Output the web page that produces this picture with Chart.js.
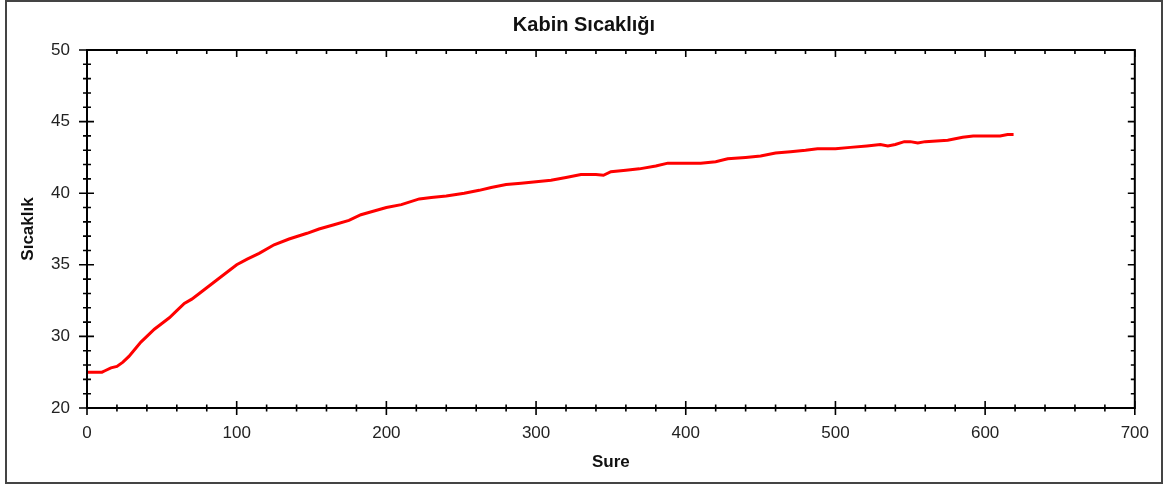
<!DOCTYPE html>
<html>
<head>
<meta charset="utf-8">
<title>Kabin Sıcaklığı</title>
<script src="https://cdn.jsdelivr.net/npm/chart.js@4/dist/chart.umd.min.js"></script>
<style>
  html, body { margin: 0; padding: 0; background: #fff; }
  #wrap { width: 1164px; height: 487px; }
</style>
</head>
<body>
<div id="wrap"><canvas id="cabinChart" width="1164" height="487"></canvas></div>
<script>
// sure (s) and kabin sicakligi (C)
const sure = [0, 5, 10, 12, 16, 20, 24, 28, 32, 36, 40, 45, 50, 55, 60, 65, 70, 75, 80, 85,
  90, 95, 100, 107, 115, 125, 135, 147, 155, 165, 175, 183, 190, 200, 210, 222, 230, 240, 252, 262,
  270, 280, 290, 300, 310, 320, 330, 340, 345, 350, 360, 369, 380, 388, 400, 410, 420, 428, 440, 450,
  460, 470, 480, 488, 500, 510, 521, 530, 535, 540, 546, 550, 555, 560, 575, 585, 592, 600, 610, 615, 619];
const sicaklik = [27.5, 27.5, 27.5, 27.6, 27.8, 27.9, 28.2, 28.6, 29.1, 29.6, 30.0, 30.5, 30.9, 31.3, 31.8, 32.3, 32.6, 33.0, 33.4, 33.8,
  34.2, 34.6, 35.0, 35.4, 35.8, 36.4, 36.8, 37.2, 37.5, 37.8, 38.1, 38.5, 38.7, 39.0, 39.2, 39.6, 39.7, 39.8, 40.0, 40.2,
  40.4, 40.6, 40.7, 40.8, 40.9, 41.1, 41.3, 41.3, 41.25, 41.5, 41.6, 41.7, 41.9, 42.1, 42.1, 42.1, 42.2, 42.4, 42.5, 42.6,
  42.8, 42.9, 43.0, 43.1, 43.1, 43.2, 43.3, 43.4, 43.3, 43.4, 43.6, 43.6, 43.5, 43.6, 43.7, 43.9, 44.0, 44.0, 44.0, 44.1, 44.1];

const xTickValues = [0, 100, 200, 300, 400, 500, 600, 700];
const xTickLabels = ['0', '100', '200', '300', '400', '500', '600', '700'];
// the bottom label of the original reads "20" although it sits at 25
const yTickValues = [25, 30, 35, 40, 45, 50];
const yTickLabels = ['20', '30', '35', '40', '45', '50'];

const points = sure.map((s, i) => ({ x: s, y: sicaklik[i] }));

// frame round the plot, ticks crossing the left and bottom axis, inside on top and right
const plotFrame = {
  id: 'plotFrame',
  beforeDraw(chart) {
    const ctx = chart.ctx;
    ctx.save();
    ctx.fillStyle = '#fff';
    ctx.fillRect(0, 0, chart.width, chart.height);
    ctx.restore();
  },
  afterDraw(chart) {
    const ctx = chart.ctx;
    const { left, right, top, bottom } = chart.chartArea;
    const xs = chart.scales.x, ys = chart.scales.y;
    ctx.save();
    ctx.strokeStyle = '#000';
    ctx.lineWidth = 2;
    ctx.strokeRect(left, top, right - left, bottom - top);

    ctx.lineWidth = 1.6;
    ctx.beginPath();
    xs.ticks.forEach(t => {
      const px = xs.getPixelForValue(t.value);
      const major = t.value % 100 === 0;
      const len = major ? 7 : 3.5;
      ctx.moveTo(px, bottom - len);
      ctx.lineTo(px, bottom + len);
      ctx.moveTo(px, top);
      ctx.lineTo(px, top + (major ? 7 : 4));
    });
    ys.ticks.forEach(t => {
      const py = ys.getPixelForValue(t.value);
      const major = t.value % 5 === 0;
      ctx.moveTo(left - (major ? 8 : 4), py);
      ctx.lineTo(left + (major ? 7 : 4), py);
      ctx.moveTo(right, py);
      ctx.lineTo(right - (major ? 7 : 4), py);
    });
    ctx.stroke();

    ctx.strokeStyle = '#444';
    ctx.lineWidth = 2;
    ctx.strokeRect(6, 1, 1156, 482);
    ctx.restore();
  }
};

const tickFont = { family: 'Liberation Sans, Arial, sans-serif', size: 17 };
const titleFont = { family: 'Liberation Sans, Arial, sans-serif', size: 17, weight: 'bold' };

new Chart(document.getElementById('cabinChart'), {
  type: 'line',
  data: {
    datasets: [{
      label: 'Sıcaklık',
      data: points,
      borderColor: '#ff0000',
      borderWidth: 3,
      pointRadius: 0,
      tension: 0,
      fill: false
    }]
  },
  options: {
    responsive: false,
    animation: false,
    devicePixelRatio: 1,
    layout: { padding: { left: 4, right: 0, top: 0, bottom: 0 } },
    plugins: {
      legend: { display: false },
      tooltip: { enabled: false },
      title: {
        display: true,
        text: 'Kabin Sıcaklığı',
        color: '#111',
        font: { family: 'Liberation Sans, Arial, sans-serif', size: 20, weight: 'bold' },
        padding: { top: 13, bottom: 13 }
      }
    },
    scales: {
      x: {
        type: 'linear',
        min: 0,
        max: 700,
        afterFit: s => { s.height = 79; },
        grid: { display: false, drawTicks: false },
        border: { display: false },
        ticks: {
          stepSize: 20,
          autoSkip: false,
          maxRotation: 0,
          padding: 15,
          color: '#222',
          font: tickFont,
          callback: v => {
            const i = xTickValues.indexOf(v);
            return i >= 0 ? xTickLabels[i] : '';
          }
        },
        title: {
          display: true,
          text: 'Sure',
          color: '#111',
          font: titleFont,
          padding: { top: 0, bottom: 14.8 }
        }
      },
      y: {
        min: 25,
        max: 50,
        afterFit: s => { s.width = 83; },
        grid: { display: false, drawTicks: false },
        border: { display: false },
        ticks: {
          stepSize: 1,
          autoSkip: false,
          padding: 17,
          color: '#222',
          font: tickFont,
          callback: v => {
            const i = yTickValues.indexOf(v);
            return i >= 0 ? yTickLabels[i] : '';
          }
        },
        title: {
          display: true,
          text: 'Sıcaklık',
          color: '#111',
          font: titleFont,
          padding: { top: 13.8, bottom: 0 }
        }
      },
      // empty right axis, only keeps the space right of the plot
      y2: {
        position: 'right',
        afterFit: s => { s.width = 29; },
        grid: { display: false, drawTicks: false },
        border: { display: false },
        ticks: { display: false }
      }
    }
  },
  plugins: [plotFrame]
});
</script>
</body>
</html>
